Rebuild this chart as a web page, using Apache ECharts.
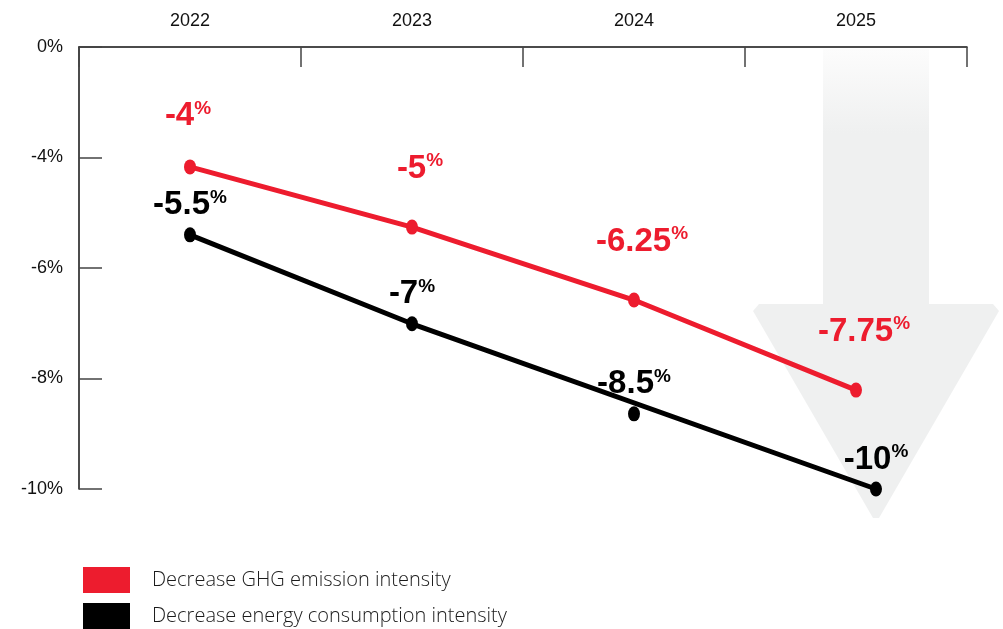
<!DOCTYPE html>
<html>
<head>
<meta charset="utf-8">
<title>Intensity targets</title>
<script src="https://cdn.jsdelivr.net/npm/echarts@6/dist/echarts.min.js"></script>
<style>
  html, body { margin: 0; padding: 0; background: #fff; }
  #chart { width: 1003px; height: 629px; }
</style>
</head>
<body>
<div id="chart"></div>
<script>
// years shown on the top axis
const years = ['2022', '2023', '2024', '2025']

// y ticks are evenly spaced in the picture, the top one is labelled 0%
const yTickValues = [-2, -4, -6, -8, -10]
const yTickLabels = ['0%', '-4%', '-6%', '-8%', '-10%']

// GHG emission intensity: where the dots sit on the axis, and the printed values
const ghgX = [2022, 2023, 2024, 2025]
const ghgY = [-4.17, -5.26, -6.58, -8.21]
const ghgLabels = ['-4', '-5', '-6.25', '-7.75']

// energy consumption intensity
const energyX = [2022, 2023, 2024, 2025.09]
const energyY = [-5.4, -7.01, -8.64, -10]
const energyLabels = ['-5.5', '-7', '-8.5', '-10']

const RED = '#ed1c2e'
const BLACK = '#000000'
const ghgName = 'Decrease GHG emission intensity'
const energyName = 'Decrease energy consumption intensity'

const zip = (xs, ys) => xs.map((x, i) => [x, ys[i]])
const ghgData = zip(ghgX, ghgY).map((d, i) => {
  // the first red label sits a little closer to its dot
  return i === 0 ? { value: d, label: { distance: 26, offset: [-2, 0] } } : d
})
const energyDots = zip(energyX, energyY)
// in the reference the black line runs straight from 2023 to 2025, passing the 2024 dot
const energyLine = energyDots.filter((d, i) => i !== 2)

const richStyle = (color) => ({
  num: {
    color: color,
    fontFamily: 'Liberation Sans',
    fontWeight: 'bold',
    fontSize: 33,
    lineHeight: 34
  },
  pct: {
    color: color,
    fontFamily: 'Liberation Sans',
    fontWeight: 'bold',
    fontSize: 19,
    lineHeight: 22,
    verticalAlign: 'top'
  }
})

const chart = echarts.init(document.getElementById('chart'), null, { renderer: 'canvas' })

chart.setOption({
  animation: false,
  backgroundColor: '#ffffff',
  textStyle: { fontFamily: 'Liberation Sans' },
  grid: {
    left: 79,
    right: 36,
    top: 47,
    bottom: 140,
    containLabel: false,
    outerBoundsMode: 'none'
  },
  // big grey arrow behind 2025
  graphic: [{
    type: 'polygon',
    z: -1,
    shape: {
      points: [
        [823, 49], [929, 49], [929, 304], [993, 304], [999, 311],
        [879, 518], [873, 518], [753, 311], [759, 304], [823, 304]
      ]
    },
    style: {
      fill: new echarts.graphic.LinearGradient(0, 0, 0, 1, [
        { offset: 0, color: '#fcfcfc' },
        { offset: 0.18, color: '#eff0f0' },
        { offset: 1, color: '#eff0f0' }
      ])
    }
  }],
  legend: {
    orient: 'vertical',
    left: 83,
    top: 567,
    height: 80,
    padding: 0,
    itemWidth: 47,
    itemHeight: 26,
    itemGap: 10,
    icon: 'rect',
    selectedMode: false,
    data: [ghgName, energyName],
    textStyle: {
      color: '#1a1a1a',
      fontFamily: 'Open Sans',
      fontWeight: 300,
      fontSize: 20,
      padding: [0, 0, 0, 17]
    }
  },
  xAxis: [{
    type: 'category',
    position: 'top',
    data: years,
    boundaryGap: true,
    axisLine: { show: true, lineStyle: { color: '#111', width: 1.5 } },
    axisTick: { show: true, inside: true, length: 20, lineStyle: { color: '#444', width: 1.5 } },
    axisLabel: { color: '#111', fontSize: 18, margin: 17, fontFamily: 'Liberation Sans' },
    splitLine: { show: false }
  }, {
    // hidden value axis that places the dots
    type: 'value',
    min: 2021.5,
    max: 2025.5,
    show: false
  }],
  yAxis: {
    type: 'value',
    min: -10,
    max: -2,
    interval: 2,
    axisLine: { show: true, lineStyle: { color: '#111', width: 1.5 } },
    axisTick: { show: true, inside: true, length: 23, lineStyle: { color: '#444', width: 1.5 } },
    axisLabel: {
      color: '#111',
      fontSize: 18,
      margin: 16,
      fontFamily: 'Liberation Sans',
      formatter: (v) => {
        const i = yTickValues.indexOf(v)
        return i >= 0 ? yTickLabels[i] : ''
      }
    },
    splitLine: { show: false }
  },
  series: [{
    name: ghgName,
    type: 'line',
    xAxisIndex: 1,
    data: ghgData,
    color: RED,
    lineStyle: { color: RED, width: 5 },
    symbol: 'circle',
    symbolSize: [12, 15],
    showAllSymbol: true,
    itemStyle: { color: RED },
    z: 4,
    label: {
      show: true,
      position: 'top',
      distance: 34,
      offset: [8, 0],
      formatter: (p) => '{num|' + ghgLabels[p.dataIndex] + '}{pct|%}',
      rich: richStyle(RED)
    }
  }, {
    name: energyName,
    type: 'line',
    xAxisIndex: 1,
    data: energyLine,
    color: BLACK,
    lineStyle: { color: BLACK, width: 5 },
    showSymbol: false,
    itemStyle: { color: BLACK },
    z: 3
  }, {
    name: energyName,
    type: 'scatter',
    xAxisIndex: 1,
    data: energyDots,
    symbol: 'circle',
    symbolSize: [12, 15],
    itemStyle: { color: BLACK, opacity: 1 },
    z: 3,
    label: {
      show: true,
      position: 'top',
      distance: 5,
      opacity: 1,
      formatter: (p) => '{num|' + energyLabels[p.dataIndex] + '}{pct|%}',
      rich: richStyle(BLACK)
    }
  }]
})
</script>
</body>
</html>
